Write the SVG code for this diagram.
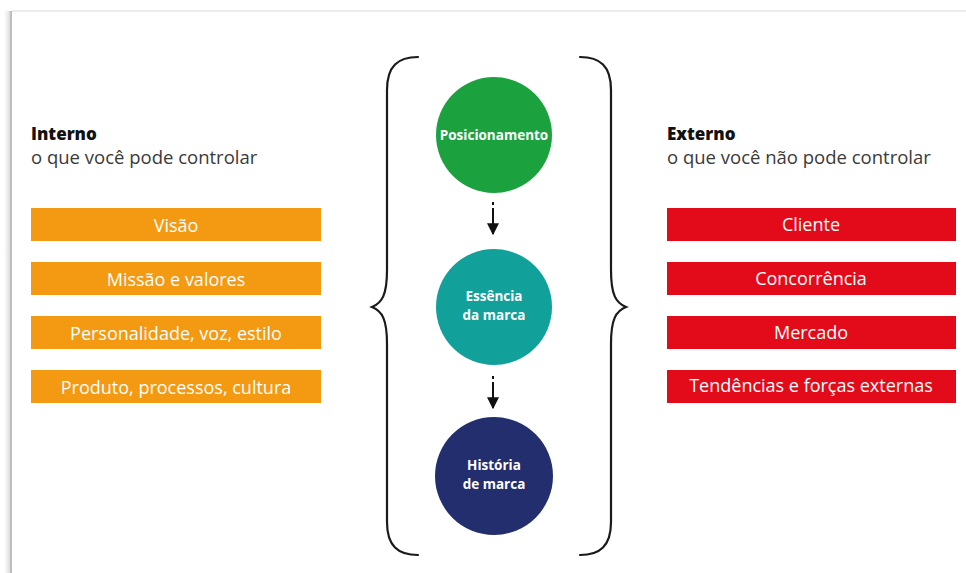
<svg xmlns="http://www.w3.org/2000/svg" width="966" height="573" viewBox="0 0 966 573">
  <defs>
    <style>
      .hd { font-family: "Open Sans", "Liberation Sans", sans-serif; font-size: 17px; font-weight: 800; fill: #111; }
      .sub { font-family: "Open Sans", "Liberation Sans", sans-serif; font-size: 18.5px; font-weight: 400; fill: #3a3a3a; }
      .box-int { fill: #F39A12; }
      .box-ext { fill: #E30B1A; }
      .lbl { font-family: "Open Sans", "Liberation Sans", sans-serif; font-size: 18px; fill: #fff; text-anchor: middle; }
      .clbl { font-family: "Open Sans", "Liberation Sans", sans-serif; font-size: 13.5px; font-weight: 700; fill: #fff; text-anchor: middle; }
      .brace { fill: none; stroke: #1a1a1a; stroke-width: 2.2; stroke-linecap: round; }
      .arr { stroke: #111; stroke-width: 2; fill: none; }
    </style>
    <linearGradient id="edgeShade" x1="0" y1="0" x2="1" y2="0">
      <stop offset="0" stop-color="#ffffff"/>
      <stop offset="1" stop-color="#d8d8d8"/>
    </linearGradient>
    <marker id="head" viewBox="0 0 10 10" refX="9" refY="5" markerWidth="12" markerHeight="13" markerUnits="userSpaceOnUse" orient="auto">
      <path d="M0,0 L10,5 L0,10 Z" fill="#111"/>
    </marker>
  </defs>

  <!-- page backdrop and sheet edge -->
  <rect x="0" y="0" width="966" height="573" fill="#ffffff"/>
  <rect x="4" y="11" width="7" height="562" fill="url(#edgeShade)"/>
  <rect x="10" y="11" width="2" height="562" fill="#bdbdbd"/>
  <rect x="12" y="10" width="954" height="2" fill="#ececec"/>
  <rect x="12" y="12" width="954" height="561" fill="#ffffff"/>

  <!-- column headings -->
  <g id="heading-internal">
    <text class="hd" x="31" y="140">Interno</text>
    <text class="sub" x="31" y="164">o que você pode controlar</text>
  </g>
  <g id="heading-external">
    <text class="hd" x="667" y="140">Externo</text>
    <text class="sub" x="667" y="164">o que você não pode controlar</text>
  </g>

  <!-- internal factors -->
  <g id="int-visao">
    <rect class="box-int" x="31" y="208" width="290" height="33"/>
    <text class="lbl" x="176" y="232">Visão</text>
  </g>
  <g id="int-missao">
    <rect class="box-int" x="31" y="262" width="290" height="33"/>
    <text class="lbl" x="176" y="286">Missão e valores</text>
  </g>
  <g id="int-personalidade">
    <rect class="box-int" x="31" y="316" width="290" height="33"/>
    <text class="lbl" x="176" y="340">Personalidade, voz, estilo</text>
  </g>
  <g id="int-produto">
    <rect class="box-int" x="31" y="370" width="290" height="33"/>
    <text class="lbl" x="176" y="394">Produto, processos, cultura</text>
  </g>

  <!-- external factors -->
  <g id="ext-cliente">
    <rect class="box-ext" x="667" y="208" width="289" height="33"/>
    <text class="lbl" x="811" y="231">Cliente</text>
  </g>
  <g id="ext-concorrencia">
    <rect class="box-ext" x="667" y="262" width="289" height="33"/>
    <text class="lbl" x="811" y="285">Concorrência</text>
  </g>
  <g id="ext-mercado">
    <rect class="box-ext" x="667" y="316" width="289" height="33"/>
    <text class="lbl" x="811" y="339">Mercado</text>
  </g>
  <g id="ext-tendencias">
    <rect class="box-ext" x="667" y="370" width="289" height="33"/>
    <text class="lbl" x="811" y="392">Tendências e forças externas</text>
  </g>

  <!-- braces around the core -->
  <g id="braces">
    <path class="brace" d="M418,57 C398,57 387,66 387,90 L387,270 C387,295 382,303 372,307 C382,311 387,319 387,344 L387,522 C387,546 398,555 418,555"/>
    <path class="brace" d="M580,57 C600,57 611,66 611,90 L611,270 C611,295 616,303 626,307 C616,311 611,319 611,344 L611,522 C611,546 600,555 580,555"/>
  </g>

  <!-- core circles -->
  <g id="posicionamento">
    <circle cx="494" cy="135" r="58" fill="#1BA23F"/>
    <text class="clbl" x="494" y="140">Posicionamento</text>
  </g>
  <g id="essencia">
    <circle cx="494" cy="307" r="58" fill="#12A09A"/>
    <text class="clbl" x="494" y="301">Essência</text>
    <text class="clbl" x="494" y="320">da marca</text>
  </g>
  <g id="historia">
    <circle cx="494" cy="476" r="59" fill="#232E6E"/>
    <text class="clbl" x="494" y="470">História</text>
    <text class="clbl" x="494" y="489">de marca</text>
  </g>

  <!-- connectors -->
  <g id="connectors">
    <line class="arr" x1="493" y1="202" x2="493" y2="205"/>
    <line class="arr" x1="493" y1="208" x2="493" y2="234" marker-end="url(#head)"/>
    <line class="arr" x1="493" y1="376" x2="493" y2="379"/>
    <line class="arr" x1="493" y1="382" x2="493" y2="408" marker-end="url(#head)"/>
  </g>
</svg>
